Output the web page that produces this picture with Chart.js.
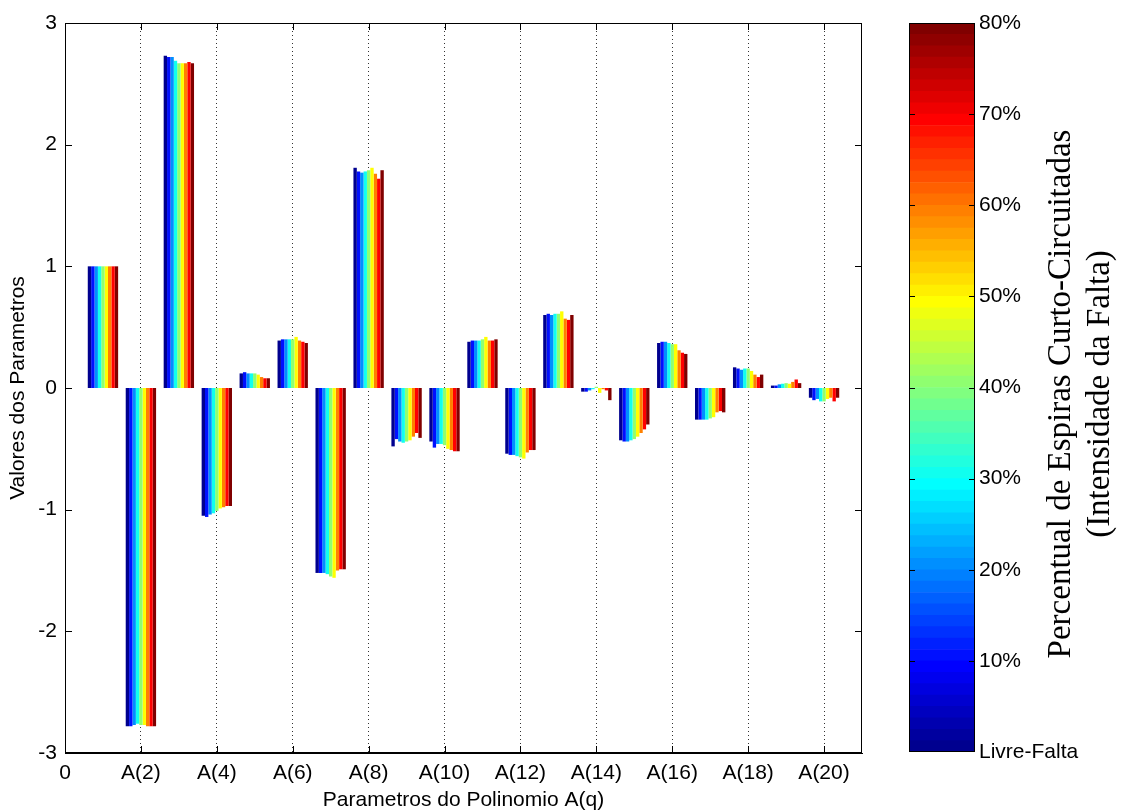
<!DOCTYPE html>
<html><head><meta charset="utf-8">
<script src="https://cdn.jsdelivr.net/npm/chart.js@4.4.1/dist/chart.umd.min.js"></script>
<style>
html,body{margin:0;padding:0;background:#fff;width:1122px;height:810px;overflow:hidden;}
#main{position:absolute;left:0;top:0;}
#cbar{position:absolute;left:880px;top:0;}
#cbtitle{position:absolute;left:780px;top:354px;width:600px;height:80px;transform:rotate(-90deg);transform-origin:50% 50%;
 font-family:"Liberation Serif","Times New Roman",serif;font-size:33px;line-height:39px;text-align:center;color:#000;}
</style></head>
<body>
<canvas id="main" width="880" height="810"></canvas>
<canvas id="cbar" width="242" height="810"></canvas>
<div id="cbtitle">Percentual de Espiras Curto-Circuitadas<br>(Intensidade da Falta)</div>
<script>
// ---- data ----
const paramIndex = [1,2,3,4,5,6,7,8,9,10,11,12,13,14,15,16,17,18,19,20];
const seriesNames = ['Livre-Falta','10%','20%','30%','40%','50%','60%','70%','80%'];
const s0 = [1.00,-2.78,2.73,-1.05,0.12,0.39,-1.52,1.81,-0.48,-0.44,0.38,-0.54,0.60,-0.03,-0.43,0.37,-0.26,0.17,0.02,-0.08];
const s1 = [1.00,-2.78,2.72,-1.06,0.13,0.40,-1.52,1.78,-0.42,-0.49,0.39,-0.55,0.61,-0.03,-0.44,0.38,-0.26,0.16,0.02,-0.10];
const s2 = [1.00,-2.77,2.72,-1.04,0.12,0.40,-1.52,1.77,-0.44,-0.46,0.39,-0.55,0.60,-0.02,-0.44,0.38,-0.26,0.15,0.03,-0.09];
const s3 = [1.00,-2.76,2.69,-1.03,0.12,0.40,-1.53,1.78,-0.45,-0.46,0.39,-0.56,0.61,-0.01,-0.43,0.37,-0.26,0.16,0.035,-0.11];
const s4 = [1.00,-2.77,2.67,-1.01,0.12,0.40,-1.55,1.79,-0.44,-0.47,0.40,-0.57,0.61,0.01,-0.42,0.36,-0.25,0.16,0.04,-0.11];
const s5 = [1.00,-2.77,2.67,-0.99,0.11,0.42,-1.56,1.81,-0.43,-0.50,0.42,-0.58,0.63,-0.04,-0.40,0.36,-0.24,0.14,0.035,-0.09];
const s6 = [1.00,-2.78,2.67,-0.98,0.09,0.39,-1.50,1.76,-0.40,-0.51,0.39,-0.53,0.57,-0.01,-0.37,0.31,-0.20,0.11,0.05,-0.08];
const s7 = [1.00,-2.78,2.68,-0.97,0.08,0.38,-1.49,1.72,-0.37,-0.52,0.39,-0.51,0.56,-0.02,-0.34,0.29,-0.19,0.09,0.07,-0.11];
const s8 = [1.00,-2.78,2.67,-0.97,0.08,0.37,-1.49,1.79,-0.41,-0.52,0.40,-0.51,0.60,-0.10,-0.30,0.28,-0.20,0.11,0.04,-0.08];
const seriesValues = [s0,s1,s2,s3,s4,s5,s6,s7,s8];
const xTickValues = [0,2,4,6,8,10,12,14,16,18,20];
const cbTickValues = [0,10,20,30,40,50,60,70,80];

// ---- jet colormap ----
function clamp(v){return Math.max(0,Math.min(1,v));}
function jet(t){
  const r=clamp(1.5-Math.abs(4*t-3)), g=clamp(1.5-Math.abs(4*t-2)), b=clamp(1.5-Math.abs(4*t-1));
  return 'rgb('+Math.round(r*255)+','+Math.round(g*255)+','+Math.round(b*255)+')';
}
const nS = seriesNames.length;
const seriesColors = seriesNames.map((_,i)=> jet((1+Math.round(i*63/(nS-1)))/64));

const FONT = '"Liberation Sans", Arial, Helvetica, sans-serif';

function inwardTicks(xVals, yVals, len){
  return {
    id:'inwardTicks',
    afterDraw(chart){
      const {ctx, chartArea:a} = chart;
      ctx.save(); ctx.strokeStyle='#000'; ctx.lineWidth=1;
      ctx.strokeRect(Math.round(a.left)+0.5, Math.round(a.top)+0.5, Math.round(a.right-a.left)-1, Math.round(a.bottom-a.top)-1);
      ctx.beginPath();
      if (xVals) { const xs = chart.scales.x;
        xVals.forEach(v=>{ const p=Math.round(xs.getPixelForValue(v))+0.5;
          ctx.moveTo(p,a.bottom); ctx.lineTo(p,a.bottom-len); ctx.moveTo(p,a.top); ctx.lineTo(p,a.top+len); }); }
      if (yVals) { const ys = chart.scales.y;
        yVals.forEach(v=>{ const p=Math.round(ys.getPixelForValue(v))+0.5;
          ctx.moveTo(a.left,p); ctx.lineTo(a.left+len,p); ctx.moveTo(a.right,p); ctx.lineTo(a.right-len,p); }); }
      ctx.stroke(); ctx.restore();
    }
  };
}

// ---- main chart ----
new Chart(document.getElementById('main'), {
  type:'bar',
  data:{
    datasets: seriesNames.map((n,i)=>({
      label:n,
      data: paramIndex.map((x,j)=>({x:x, y:seriesValues[i][j]})),
      backgroundColor: seriesColors[i],
      borderWidth:0
    }))
  },
  options:{
    responsive:false, animation:false,
    categoryPercentage:0.8, barPercentage:1.0,
    layout:{padding:{top:23,right:18,left:0,bottom:0}},
    plugins:{legend:{display:false}, tooltip:{enabled:false}},
    scales:{
      x:{type:'linear', position:'bottom', min:0, max:21, offset:false,
        afterFit(s){s.height=57;},
        ticks:{stepSize:2, includeBounds:false, autoSkip:false, maxRotation:0, padding:8,
          font:{family:FONT,size:21}, color:'#000',
          callback:(v)=> v===0 ? '0' : 'A('+v+')'},
        grid:{display:true, offset:false, drawTicks:false, color:(c)=> c.tick && c.tick.value===0 ? 'rgba(0,0,0,0)' : '#333', lineWidth:1},
        border:{display:true, color:'#000', dash:[1,3]},
        title:{display:true, text:'Parametros do Polinomio A(q)', font:{family:FONT,size:21,lineHeight:0.95}, color:'#000', padding:{top:0,bottom:0}}
      },
      y:{type:'linear', position:'left', min:-3, max:3,
        afterFit(s){s.width=65;},
        ticks:{stepSize:1, padding:8, font:{family:FONT,size:21}, color:'#000'},
        grid:{display:false, drawTicks:false},
        border:{display:true, color:'#000'},
        title:{display:true, text:'Valores dos Parametros', font:{family:FONT,size:21}, color:'#000', padding:{top:6,bottom:0}}
      }
    }
  },
  plugins:[inwardTicks(xTickValues.filter(v=>v>0), [-2,-1,0,1,2], 7)]
});

// ---- colorbar ----
const nBands = 64;
const bandValues = Array.from({length:nBands}, ()=> 80/nBands);
new Chart(document.getElementById('cbar'), {
  type:'bar',
  data:{
    labels:[''],
    datasets: bandValues.map((v,k)=>({
      data:[v], backgroundColor: jet((k+1)/nBands), borderWidth:0
    }))
  },
  options:{
    responsive:false, animation:false,
    categoryPercentage:1, barPercentage:1,
    layout:{padding:{top:23,left:29,bottom:58,right:0}},
    plugins:{legend:{display:false}, tooltip:{enabled:false}},
    scales:{
      x:{display:false, stacked:true},
      y:{stacked:true, position:'right', min:0, max:80,
        afterFit(s){s.width=147;},
        ticks:{stepSize:10, padding:4, font:{family:FONT,size:21}, color:'#000',
          callback:(v)=> v===0 ? 'Livre-Falta' : v+'%'},
        grid:{display:false, drawTicks:false},
        border:{display:false}
      }
    }
  },
  plugins:[inwardTicks(null, cbTickValues.filter(v=>v>0 && v<80), 6)]
});
</script>
</body></html>
